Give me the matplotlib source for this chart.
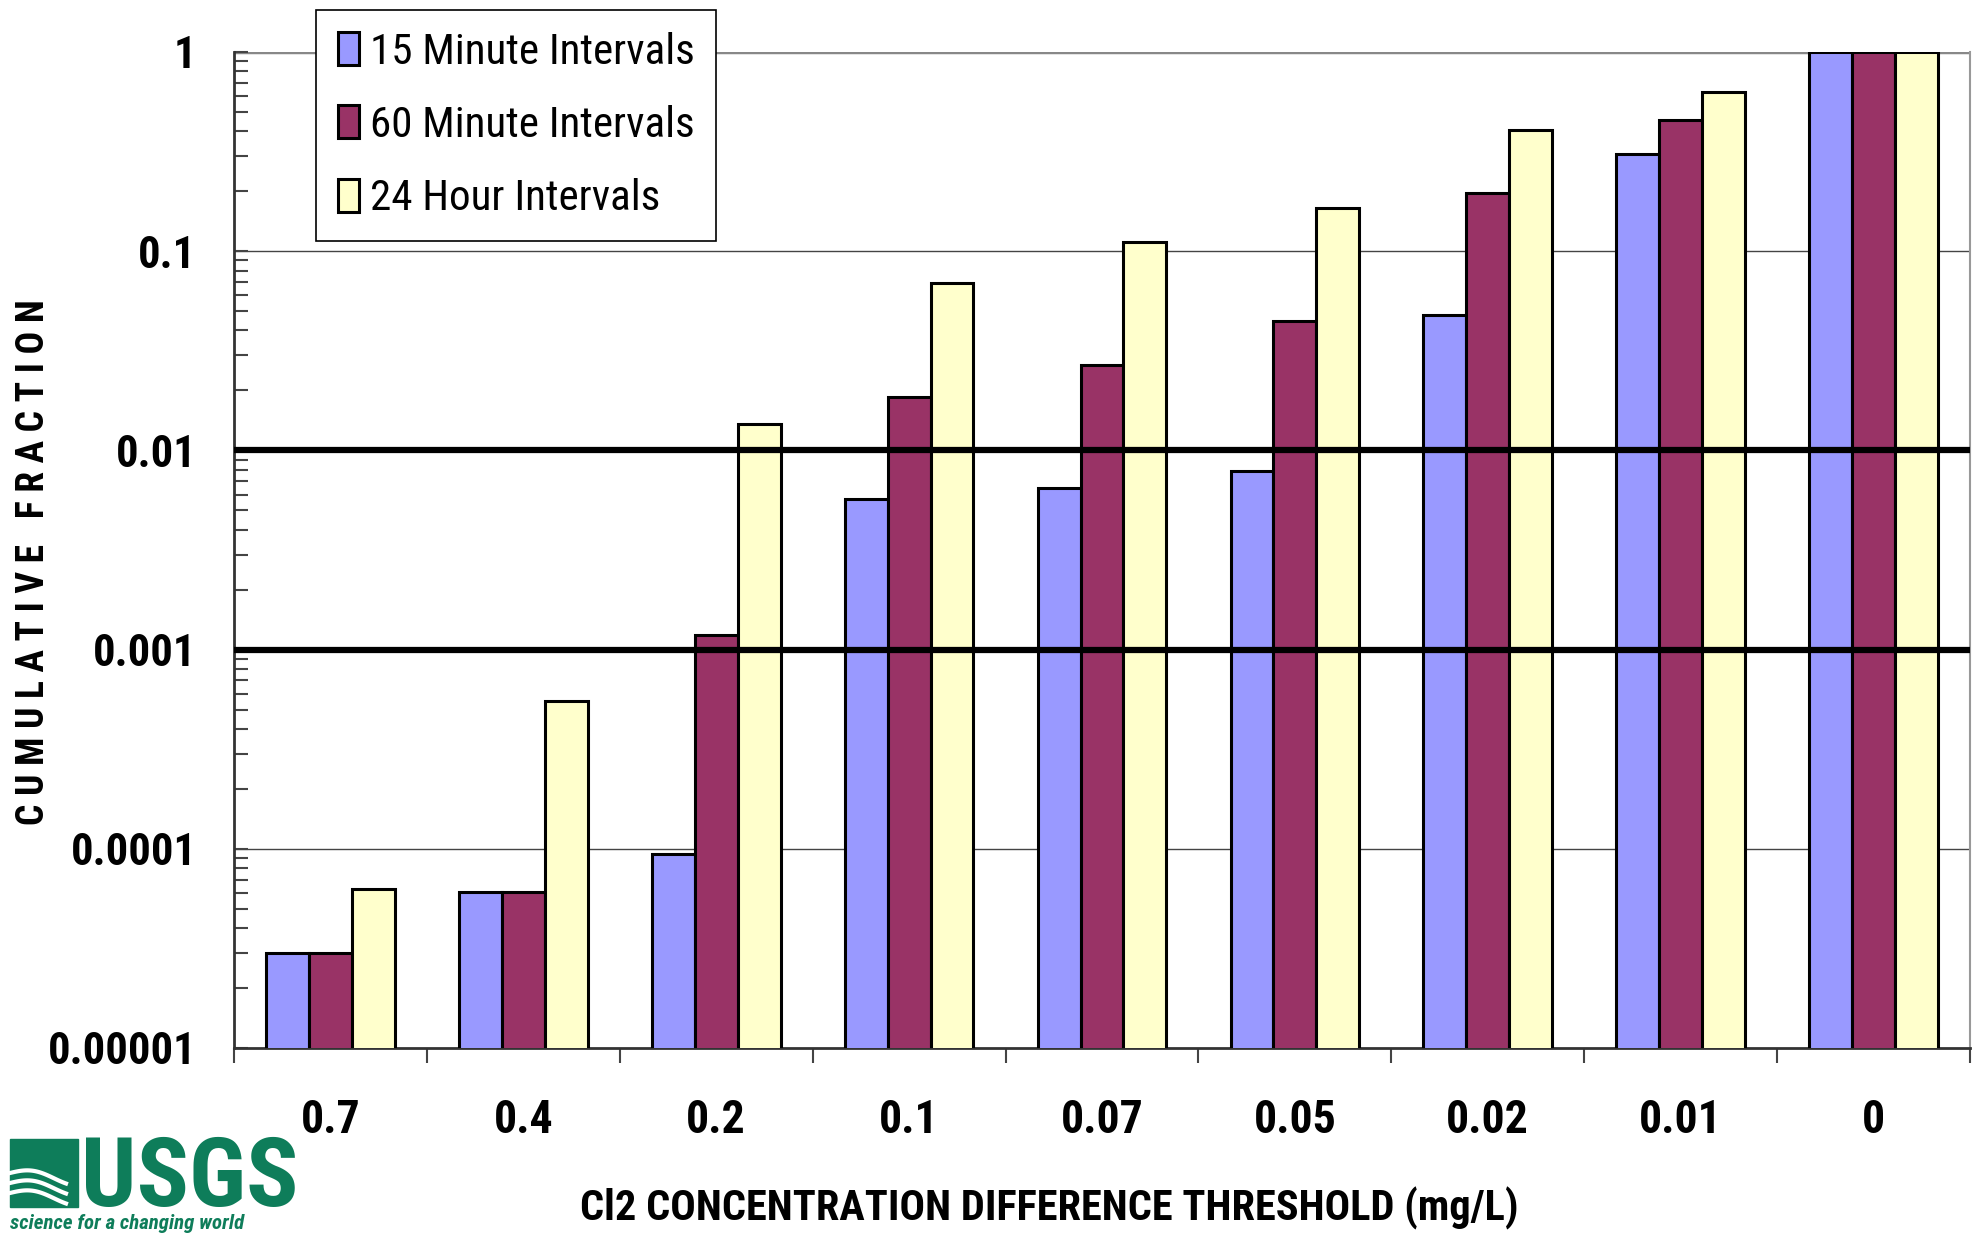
import numpy as np
import matplotlib
matplotlib.use("Agg")
import matplotlib.pyplot as plt
from matplotlib.patches import Rectangle, Patch

plt.rcParams['font.family'] = ['Roboto Condensed', 'PT Sans Narrow', 'DejaVu Sans']

# data
thresholds = ["0.7", "0.4", "0.2", "0.1", "0.07", "0.05", "0.02", "0.01", "0"]
min15 = [3.0e-5, 6.1e-5, 9.4e-5, 5.7e-3, 6.5e-3, 7.9e-3, 0.048, 0.308, 1.0]
min60 = [3.0e-5, 6.1e-5, 1.19e-3, 0.0186, 0.0268, 0.0446, 0.196, 0.456, 1.0]
hour24 = [6.3e-5, 5.5e-4, 0.0135, 0.069, 0.111, 0.165, 0.406, 0.628, 1.0]
series_names = ["15 Minute Intervals", "60 Minute Intervals", "24 Hour Intervals"]
colors = ["#9999FF", "#993366", "#FFFFCC"]
limit_lines = [0.01, 0.001]

W, H = 1973, 1233
fig = plt.figure(figsize=(W / 100, H / 100), dpi=100)
ax = fig.add_axes([234 / W, 1 - 1048 / H, (1970 - 234) / W, (1048 - 52) / H])

x = np.arange(len(thresholds))
bw = 1 / 4.5
for i, (vals, c) in enumerate(zip([min15, min60, hour24], colors)):
    ax.bar(x + (i - 1) * bw, vals, width=bw, color=c, edgecolor="black",
           linewidth=2.2, zorder=3)

ax.set_yscale("log")
ax.set_ylim(1e-5, 1)
ax.set_xlim(-0.5, len(thresholds) - 0.5)

# thin decade gridlines behind the bars
for v in [1e-4, 1e-3, 1e-2, 1e-1]:
    ax.axhline(v, color="#444444", lw=1.0, zorder=1)
ax.axhline(1, color="#888888", lw=2.5, zorder=1)
for v in limit_lines:
    ax.axhline(v, color="black", lw=4.5, zorder=5)

# y ticks
ax.set_yticks([1e-5, 1e-4, 1e-3, 1e-2, 1e-1, 1])
ax.set_yticklabels(["0.00001", "0.0001", "0.001", "0.01", "0.1", "1"],
                   fontsize=32, fontweight="bold")
ax.tick_params(axis="y", which="both", direction="in", length=10, width=1.5,
               color="#444444", pad=27)
ax.yaxis.set_minor_locator(matplotlib.ticker.LogLocator(base=10, subs=np.arange(2, 10)))
ax.yaxis.set_minor_formatter(matplotlib.ticker.NullFormatter())

# x ticks: boundaries get the tick marks, centres get the labels
ax.set_xticks(np.arange(len(thresholds) + 1) - 0.5)
ax.set_xticklabels([])
ax.set_xticks(x, minor=True)
ax.set_xticklabels(thresholds, minor=True, fontsize=33, fontweight="bold")
ax.tick_params(axis="x", which="major", direction="out", length=11, width=1.5,
               color="#444444")
ax.tick_params(axis="x", which="minor", length=0, pad=36)

for s in ["left", "bottom"]:
    ax.spines[s].set_color("#333333")
    ax.spines[s].set_linewidth(2)
ax.spines["right"].set_color("#999999")
ax.spines["right"].set_linewidth(1.5)
ax.spines["top"].set_visible(False)

handles = [Patch(facecolor=c, edgecolor="black", linewidth=2.2) for c in colors]
leg = fig.legend(handles, series_names, loc="upper left",
                 bbox_to_anchor=(316 / W, 1 - 10 / H), fontsize=31,
                 fancybox=False, framealpha=1, edgecolor="black",
                 handlelength=0.5, handleheight=0.8, handletextpad=0.25,
                 labelspacing=0.75, borderpad=0.5, borderaxespad=0)
leg.get_frame().set_linewidth(1.2)

fig.text(34 / W, 1 - 562 / H, "C U M U L A T I V E   F R A C T I O N",
         rotation=90, ha="center", va="center", fontsize=27, fontweight="bold")
fig.text(1049 / W, 1 - 1208 / H, "Cl2 CONCENTRATION DIFFERENCE THRESHOLD (mg/L)",
         ha="center", va="center", fontsize=30.5, fontweight="bold")

# USGS logo, bottom left
green = "#0e7d5a"
lax = fig.add_axes([8 / W, 0, 290 / W, 100 / H])
lax.set_xlim(0, 290)
lax.set_ylim(0, 100)
lax.axis("off")
lax.add_patch(Rectangle((2, 26), 68, 68, color=green))
t = np.linspace(2, 58, 60)
for off in [40, 50, 60]:
    lax.plot(t, off + 5 * np.sin((t - 2) / 14) - (t - 2) * 0.12, color="white", lw=3)
lax.text(73, 27, "USGS", color=green, fontsize=70, fontweight="bold",
         va="baseline", ha="left")
lax.text(2, 0, "science for a changing world", color=green, fontsize=15,
         fontweight="bold", style="italic", va="bottom", ha="left")

fig.savefig("out.png", dpi=100)
